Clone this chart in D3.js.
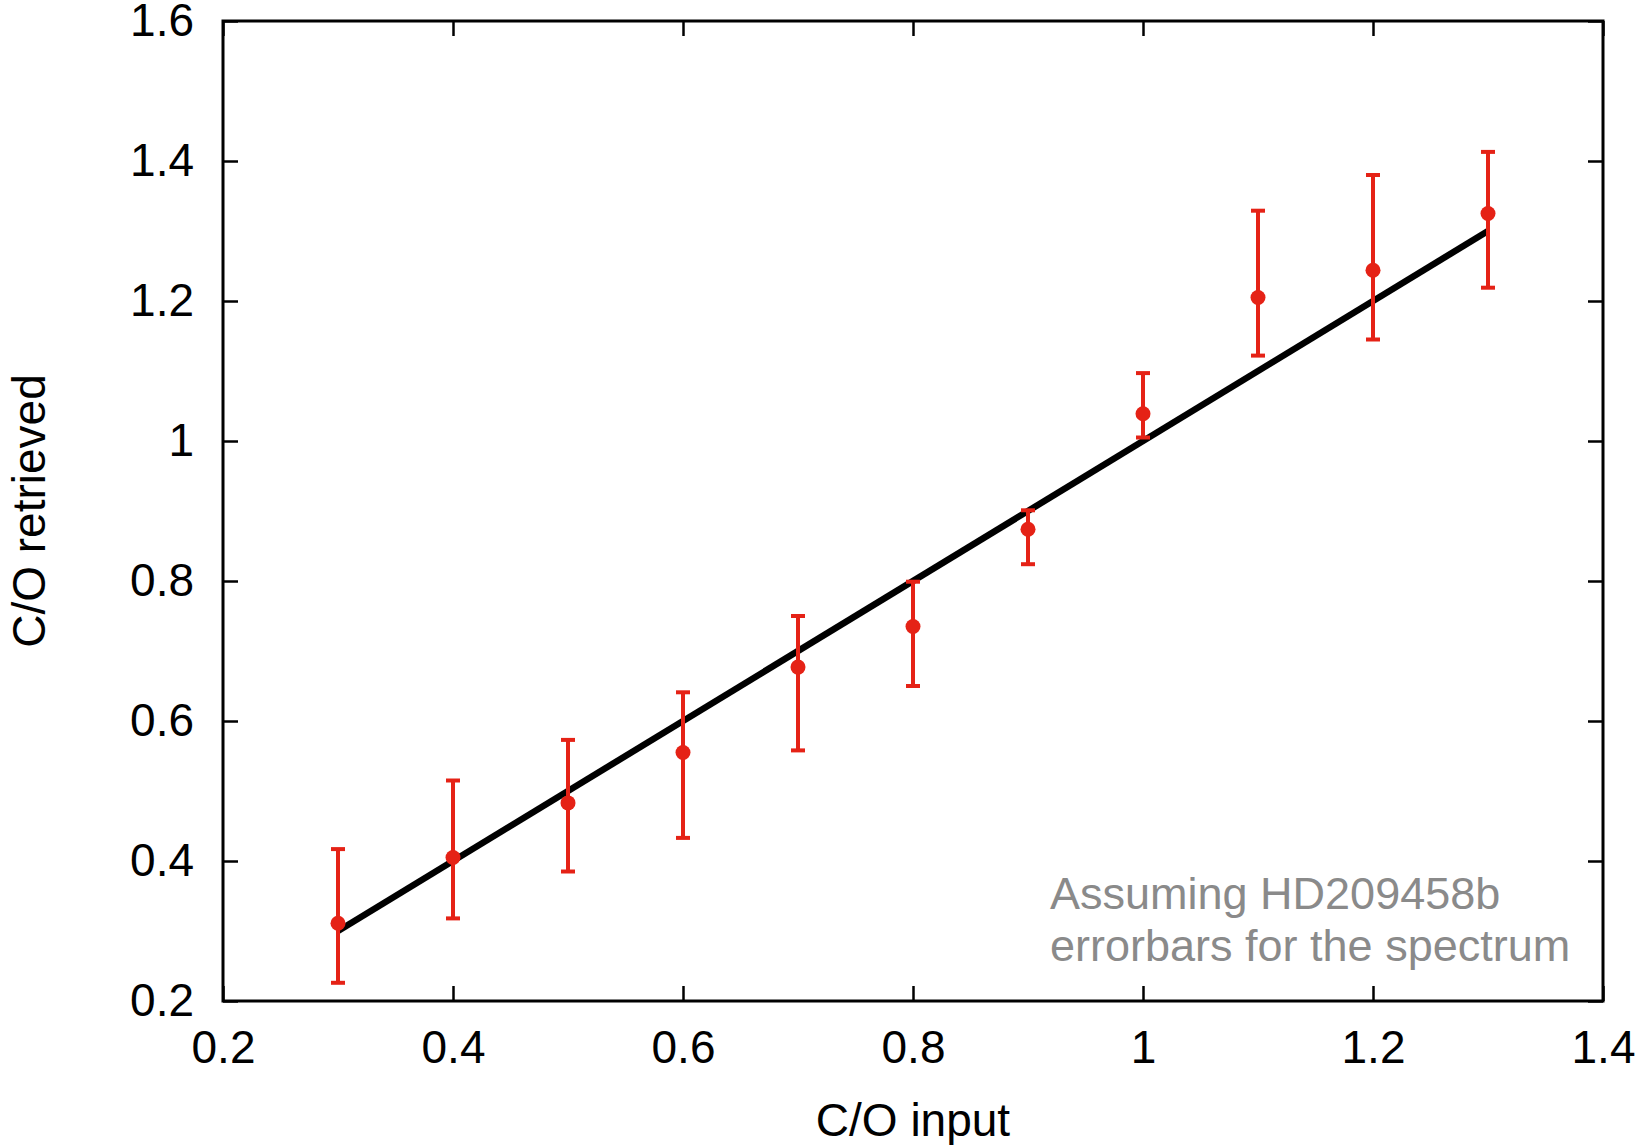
<!DOCTYPE html>
<html>
<head>
<meta charset="utf-8">
<script src="https://cdn.jsdelivr.net/npm/d3@7"></script>
<style>
  html, body { margin: 0; padding: 0; background: #fff; }
  svg { display: block; font-family: "Liberation Sans", Arial, Helvetica, sans-serif; }
</style>
</head>
<body>
<svg id="chart" width="1643" height="1145"></svg>
<script>
// Data
const coInput     = [0.3, 0.4, 0.5, 0.6, 0.7, 0.8, 0.9, 1.0, 1.1, 1.2, 1.3];
const coRetrieved = [0.311, 0.405, 0.483, 0.555, 0.677, 0.735, 0.874, 1.039, 1.205, 1.244, 1.325];
const errLow      = [0.226, 0.318, 0.385, 0.433, 0.558, 0.650, 0.824, 1.005, 1.122, 1.145, 1.219];
const errHigh     = [0.417, 0.515, 0.573, 0.641, 0.750, 0.799, 0.901, 1.097, 1.329, 1.380, 1.413];
const oneToOne    = [[0.3, 0.3], [1.3, 1.3]];
const xTicks = [0.2, 0.4, 0.6, 0.8, 1.0, 1.2, 1.4];
const yTicks = [0.2, 0.4, 0.6, 0.8, 1.0, 1.2, 1.4, 1.6];
const xTickLabels = ["0.2", "0.4", "0.6", "0.8", "1", "1.2", "1.4"];
const yTickLabels = ["0.2", "0.4", "0.6", "0.8", "1", "1.2", "1.4", "1.6"];
const annotation = ["Assuming HD209458b", "errorbars for the spectrum"];

const L = 223, R = 1603, T = 21, B = 1001;
const svg = d3.select("#chart");
const x = d3.scaleLinear().domain([0.2, 1.4]).range([L, R]);
const y = d3.scaleLinear().domain([0.2, 1.6]).range([B, T]);
const red = "#e52216";
const fs = 46;

// Ticks (inward on all four sides)
const tickLen = 15;
const tickFmtX = d => xTickLabels[xTicks.indexOf(d)];
const tickFmtY = d => yTickLabels[yTicks.indexOf(d)];

const gB = svg.append("g").attr("transform", `translate(0,${B})`)
  .call(d3.axisBottom(x).tickValues(xTicks).tickSize(-tickLen).tickPadding(29).tickFormat(tickFmtX));
const gT = svg.append("g").attr("transform", `translate(0,${T})`)
  .call(d3.axisTop(x).tickValues(xTicks).tickSize(-tickLen).tickFormat(""));
const gL = svg.append("g").attr("transform", `translate(${L},0)`)
  .call(d3.axisLeft(y).tickValues(yTicks).tickSize(-tickLen).tickPadding(29).tickFormat(tickFmtY));
const gR = svg.append("g").attr("transform", `translate(${R},0)`)
  .call(d3.axisRight(y).tickValues(yTicks).tickSize(-tickLen).tickFormat(""));

[gB, gT, gL, gR].forEach(g => {
  g.select(".domain").remove();
  g.selectAll(".tick line").attr("stroke", "#000").attr("stroke-width", 2.5);
  g.selectAll(".tick text").attr("fill", "#000").attr("font-size", fs)
    .attr("font-family", "'Liberation Sans', Arial, Helvetica, sans-serif");
});
gB.selectAll(".tick text").attr("dy", "0.71em");

// Frame
svg.append("rect").attr("x", L).attr("y", T).attr("width", R - L).attr("height", B - T)
  .attr("fill", "none").attr("stroke", "#000").attr("stroke-width", 3);

// 1:1 line
svg.append("path")
  .attr("d", d3.line().x(d => x(d[0])).y(d => y(d[1]))(oneToOne))
  .attr("stroke", "#000").attr("stroke-width", 6.5).attr("fill", "none");

// Error bars
const eb = svg.append("g");
const capW = 7;
coInput.forEach((xv, i) => {
  const cx = x(xv);
  eb.append("line").attr("x1", cx).attr("x2", cx).attr("y1", y(errLow[i])).attr("y2", y(errHigh[i]))
    .attr("stroke", red).attr("stroke-width", 4);
  [errLow[i], errHigh[i]].forEach(v => {
    eb.append("line").attr("x1", cx - capW).attr("x2", cx + capW).attr("y1", y(v)).attr("y2", y(v))
      .attr("stroke", red).attr("stroke-width", 4);
  });
});
eb.selectAll("circle").data(coInput).enter().append("circle")
  .attr("cx", d => x(d)).attr("cy", (d, i) => y(coRetrieved[i])).attr("r", 7.5).attr("fill", red);

// Axis titles
svg.append("text").attr("x", (L + R) / 2).attr("y", 1136).attr("text-anchor", "middle")
  .attr("font-size", fs).attr("fill", "#000").text("C/O input");
svg.append("text").attr("transform", `translate(45,${(T + B) / 2}) rotate(-90)`)
  .attr("text-anchor", "middle").attr("font-size", fs).attr("fill", "#000").text("C/O retrieved");

// Annotation
svg.append("text").attr("font-size", 45).attr("fill", "#8a8a8a")
  .selectAll("tspan").data(annotation).enter().append("tspan")
  .attr("x", 1050).attr("y", (d, i) => 909 + i * 52).text(d => d);
</script>
</body>
</html>
